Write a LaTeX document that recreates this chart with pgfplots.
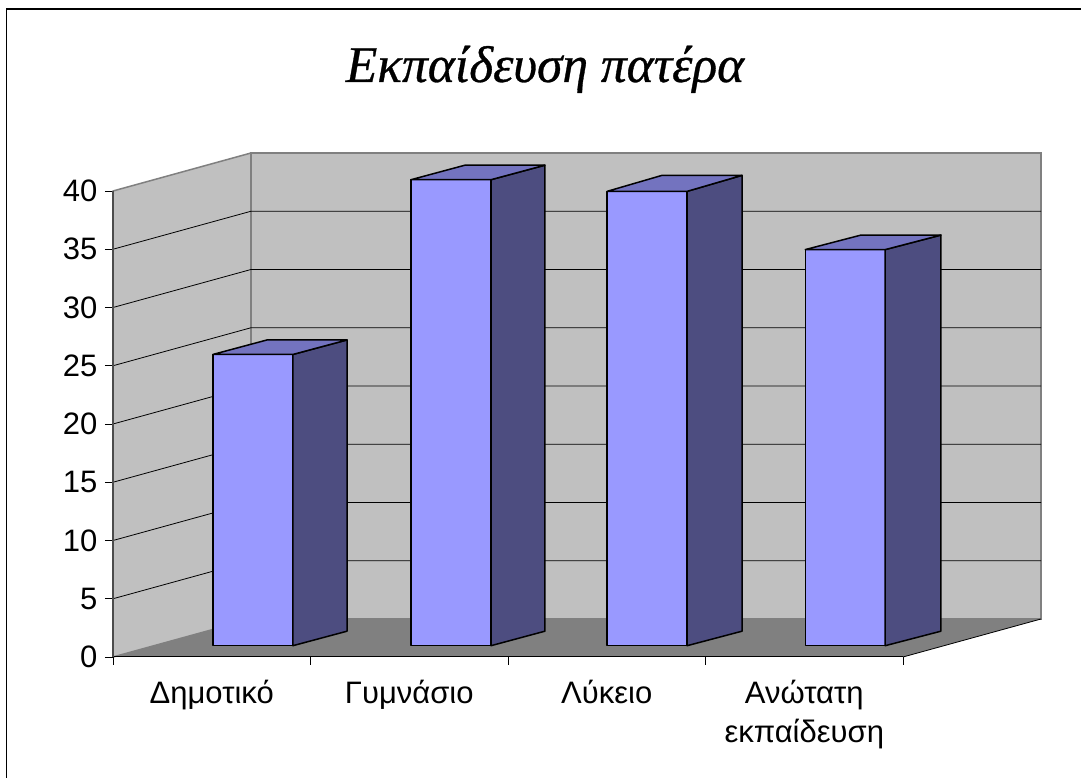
\documentclass[border=0pt]{standalone}
\usepackage{pgfplots}
\pgfplotsset{compat=1.18}
\usepackage{fontspec}
\setmainfont{Liberation Sans}
\newfontfamily\titlefont[ItalicFeatures={FakeBold=0.6}]{Liberation Serif}
\definecolor{wall}{HTML}{C0C0C0}
\definecolor{floorc}{HTML}{808080}
\definecolor{front}{HTML}{9999FF}
\definecolor{sidec}{HTML}{4D4D80}
\definecolor{topc}{HTML}{7373BF}
\begin{document}
\begin{tikzpicture}[x=1pt,y=1pt]
\path[use as bounding box] (0,0) rectangle (1081,778);
\fill[white] (0,0) rectangle (1081,778);
\draw[line width=1.5pt,black] (6.5,0) -- (6.5,769) -- (1081,769);
\node[font=\titlefont\itshape\fontsize{51.5}{57}\selectfont,anchor=base] at (545,696) {Εκπαίδευση πατέρα};
% back planes, ticks and labels
\begin{axis}[
  at={(113pt,121pt)},anchor=south west,
  scale only axis,width=790pt,height=466pt,
  xmin=0,xmax=4,ymin=0,ymax=40,
  clip=false,axis on top,
  axis x line*=bottom,axis y line*=left,
  axis line style={-},
  x axis line style={black,line width=1pt},
  y axis line style={black!70,line width=1.2pt},
  /pgf/number format/assume math mode=true,
  ytick={0,5,...,40},
  xtick={0.5,1.5,2.5,3.5},
  xticklabels={Δημοτικό,Γυμνάσιο,Λύκειο,{Ανώτατη\\εκπαίδευση}},
  minor xtick={0,1,2,3,4},
  tick align=outside,
  major tick length=8pt,minor tick length=8pt,
  major x tick style={draw=none},
  minor x tick style={black,line width=1pt},
  y tick style={black,line width=0.8pt},
  y tick label style={font=\fontsize{31}{34}\selectfont,xshift=-4pt},
  x tick label style={font=\fontsize{31}{39}\selectfont,align=center,yshift=-12pt,anchor=north},
]
\addplot[draw=floorc,line width=1.5pt,fill=wall] coordinates {(0,0)(0.6987,3.262)(0.6987,43.262)(0,40)} --cycle;
\addplot[draw=floorc,line width=1.5pt,fill=wall] coordinates {(0.6987,3.262)(4.6987,3.262)(4.6987,43.262)(0.6987,43.262)} --cycle;
\addplot[draw=none,fill=floorc] coordinates {(0,0)(0.6987,3.262)(4.6987,3.262)(4,0)} --cycle;
\addplot[black,line width=0.8pt] coordinates {(4,0)(4.6987,3.262)};
\addplot[black,line width=0.8pt] coordinates {(0,5)(0.6987,8.262)(4.6987,8.262)};
\addplot[black,line width=0.8pt] coordinates {(0,10)(0.6987,13.262)(4.6987,13.262)};
\addplot[black,line width=0.8pt] coordinates {(0,15)(0.6987,18.262)(4.6987,18.262)};
\addplot[black,line width=0.8pt] coordinates {(0,20)(0.6987,23.262)(4.6987,23.262)};
\addplot[black,line width=0.8pt] coordinates {(0,25)(0.6987,28.262)(4.6987,28.262)};
\addplot[black,line width=0.8pt] coordinates {(0,30)(0.6987,33.262)(4.6987,33.262)};
\addplot[black,line width=0.8pt] coordinates {(0,35)(0.6987,38.262)(4.6987,38.262)};
\end{axis}
% the bars: zero of this axis lies on the plane of the bars
\begin{axis}[
  at={(113pt,121pt)},anchor=south west,
  scale only axis,width=790pt,height=466pt,
  xmin=0,xmax=4,ymin=-0.97,ymax=39.03,
  clip=false,hide axis,
]
\addplot[ybar,bar width=80pt,draw=black,line width=1.5pt,line join=round,fill=front] coordinates {(0.709,25)(1.711,40)(2.705,39)(3.708,34)};
% Δημοτικό
\addplot[draw=black,line width=1.5pt,line join=round,fill=sidec] coordinates {(0.911,0)(1.185,1.245)(1.185,26.245)(0.911,25)} --cycle;
\addplot[draw=black,line width=1.5pt,line join=round,fill=topc] coordinates {(0.506,25)(0.911,25)(1.185,26.245)(0.780,26.245)} --cycle;
% Γυμνάσιο
\addplot[draw=black,line width=1.5pt,line join=round,fill=sidec] coordinates {(1.914,0)(2.187,1.245)(2.187,41.245)(1.914,40)} --cycle;
\addplot[draw=black,line width=1.5pt,line join=round,fill=topc] coordinates {(1.509,40)(1.914,40)(2.187,41.245)(1.782,41.245)} --cycle;
% Λύκειο
\addplot[draw=black,line width=1.5pt,line join=round,fill=sidec] coordinates {(2.907,0)(3.185,1.245)(3.185,40.373)(2.907,39)} --cycle;
\addplot[draw=black,line width=1.5pt,line join=round,fill=topc] coordinates {(2.502,39)(2.907,39)(3.185,40.373)(2.780,40.373)} --cycle;
% Ανώτατη εκπαίδευση
\addplot[draw=black,line width=1.5pt,line join=round,fill=sidec] coordinates {(3.910,0)(4.192,1.245)(4.192,35.245)(3.910,34)} --cycle;
\addplot[draw=black,line width=1.5pt,line join=round,fill=topc] coordinates {(3.505,34)(3.910,34)(4.192,35.245)(3.787,35.245)} --cycle;
\end{axis}
\end{tikzpicture}
\end{document}
